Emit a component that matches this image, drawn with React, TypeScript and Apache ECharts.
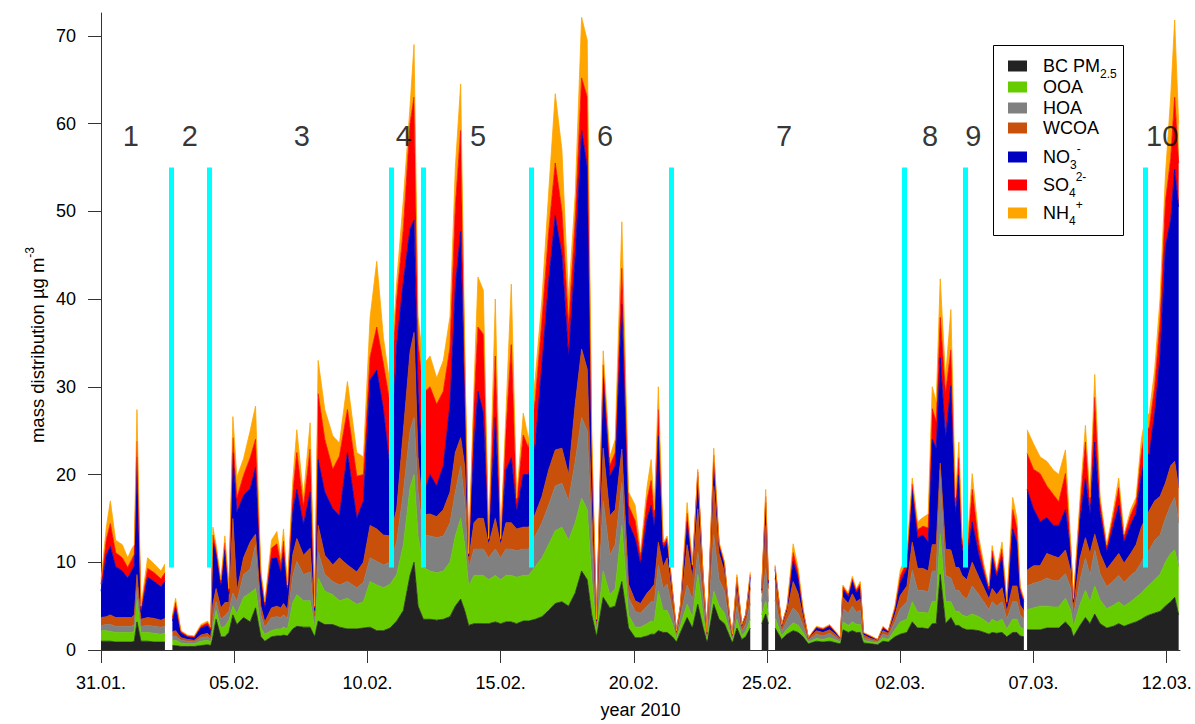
import React, { useEffect, useRef } from "react";
import * as echarts from "echarts";

// time in days after 31.01.2010 00:00
const days = [
  0, 0.2, 0.35, 0.55, 0.8, 1.0, 1.15, 1.25, 1.35, 1.5,
  1.75, 2.0, 2.25, 2.4, 2.55, 2.68, 2.8, 3.0, 3.25, 3.5,
  3.75, 4.0, 4.12, 4.2, 4.32, 4.5, 4.65, 4.8, 4.95, 5.1,
  5.35, 5.6, 5.8, 6.0, 6.15, 6.4, 6.6, 6.75, 6.85, 7.0,
  7.2, 7.35, 7.6, 7.85, 8.02, 8.15, 8.4, 8.7, 8.95, 9.25,
  9.6, 9.85, 10.1, 10.35, 10.6, 10.85, 11.1, 11.35, 11.6, 11.75,
  11.9, 12.1, 12.35, 12.6, 12.85, 13.1, 13.3, 13.5, 13.65, 13.8,
  14.0, 14.15, 14.35, 14.55, 14.8, 15.0, 15.2, 15.4, 15.6, 15.85,
  16.05, 16.3, 16.55, 16.8, 17.05, 17.3, 17.55, 17.8, 18.04, 18.25,
  18.42, 18.6, 18.85, 19.1, 19.3, 19.55, 19.8, 20.05, 20.25, 20.5,
  20.65, 20.77, 20.92, 21.1, 21.25, 21.45, 21.6, 21.75, 22.0, 22.2,
  22.4, 22.6, 22.75, 23.0, 23.2, 23.4, 23.6, 23.7, 23.87, 24.05,
  24.2, 24.37, 24.45, 24.8, 24.95, 25.05, 25.15, 25.3, 25.55, 25.75,
  25.98, 26.17, 26.35, 26.55, 26.85, 27.1, 27.35, 27.6, 27.75, 27.85,
  28.05, 28.2, 28.35, 28.5, 28.62, 28.9, 29.15, 29.35, 29.55, 29.8,
  30.0, 30.25, 30.45, 30.65, 30.85, 31.05, 31.2, 31.35, 31.5, 31.7,
  31.9, 32.07, 32.2, 32.32, 32.5, 32.7, 32.95, 33.15, 33.33, 33.45,
  33.62, 33.82, 34.0, 34.22, 34.38, 34.5, 34.64, 34.7, 34.76, 35.0,
  35.25, 35.5, 35.75, 35.95, 36.2, 36.4, 36.5, 36.75, 36.95, 37.12,
  37.3, 37.5, 37.75, 38.0, 38.2, 38.4, 38.65, 38.85, 39.05, 39.2,
  39.35, 39.55, 39.75, 39.95, 40.15, 40.3, 40.45,
];

const bc = [
  1.0, 1.0, 1.0, 0.9, 0.9, 0.9, 0.9, 1.0, 3.2, 1.0,
  1.0, 0.9, 0.9, 0.9, null, 0.5, 0.5, 0.4, 0.4, 0.4,
  0.5, 0.6, 0.5, 1.5, 3.5, 1.5, 1.5, 2.0, 4.0, 2.9,
  3.7, 3.2, 4.8, 1.5, 1.0, 1.5, 1.6, 1.6, 1.7, 1.6,
  2.4, 2.7, 2.6, 2.6, 1.5, 3.3, 2.9, 2.9, 2.6, 2.4,
  2.4, 2.5, 2.6, 2.2, 2.2, 2.5, 3.3, 4.5, 8.5, 10.0,
  5.0, 3.5, 3.5, 3.4, 3.5, 3.8, 5.0, 5.8, 4.5, 2.8,
  3.0, 3.0, 3.0, 3.0, 3.2, 3.0, 3.2, 3.2, 3.0, 3.3,
  3.3, 3.5, 3.8, 4.5, 5.3, 5.5, 5.0, 6.5, 9.0, 8.0,
  4.0, 1.5, 6.0, 4.8, 5.0, 7.8, 2.5, 1.4, 1.4, 1.6,
  1.8, 1.8, 2.2, 2.0, 2.0, 1.5, 0.9, 2.0, 3.7, 2.5,
  5.2, 2.5, 0.9, 5.2, 3.5, 3.0, 1.5, 0.8, 2.5, 1.2,
  1.5, 2.5, null, 3.0, 4.1, 3.0, null, 2.5, 1.2, 1.8,
  2.2, 2.0, 1.5, 0.7, 1.0, 0.9, 1.0, 0.8, 0.7, 2.3,
  2.0, 2.2, 2.0, 2.0, 0.8, 0.7, 0.6, 1.0, 0.9, 1.5,
  1.8, 2.0, 3.2, 2.5, 2.5, 2.4, 3.0, 3.0, 8.6, 3.0,
  3.7, 2.8, 2.8, 2.5, 2.3, 2.3, 2.2, 2.0, 1.8, 2.0,
  1.9, 2.0, 1.5, 2.0, 2.0, 1.6, 1.5, null, 2.3, 2.3,
  2.3, 2.5, 2.5, 2.5, 3.2, 2.5, 1.5, 2.8, 3.7, 3.0,
  4.1, 3.0, 2.5, 2.7, 3.0, 2.7, 3.0, 3.2, 3.5, 3.8,
  4.0, 4.2, 4.4, 5.0, 5.5, 6.0, 4.0,
];

const ooa = [
  1.2, 1.2, 1.1, 1.1, 1.1, 1.1, 1.1, 1.1, 2.6, 1.0,
  1.0, 1.0, 0.9, 1.0, null, 0.6, 0.6, 0.4, 0.3, 0.3,
  0.5, 0.5, 0.4, 1.2, 1.0, 1.0, 1.2, 1.4, 1.0, 1.2,
  2.3, 3.3, 2.2, 1.0, 0.8, 0.7, 0.8, 0.8, 0.9, 0.8,
  3.0, 3.6, 3.0, 3.0, 1.0, 4.9, 3.8, 3.4, 3.0, 3.5,
  2.8, 3.0, 5.2, 5.2, 4.9, 5.0, 5.3, 7.5, 10.0, 10.0,
  8.0, 5.9, 5.5, 5.4, 5.5, 6.2, 8.0, 9.2, 7.5, 4.5,
  5.5, 5.5, 5.5, 5.0, 5.3, 5.0, 5.3, 5.3, 5.3, 5.2,
  5.2, 6.0, 6.7, 7.5, 8.3, 8.5, 7.5, 8.0, 8.3, 8.0,
  4.0, 0.7, 3.0, 1.5, 2.0, 6.4, 1.5, 1.2, 1.2, 1.4,
  1.5, 1.5, 4.5, 2.5, 2.5, 1.5, 0.4, 0.8, 1.5, 1.2,
  3.4, 1.5, 0.3, 1.5, 1.5, 1.2, 0.6, 0.3, 1.0, 0.4,
  0.6, 1.0, null, 1.0, 1.5, 1.0, null, 1.2, 0.4, 0.6,
  0.9, 0.8, 0.5, 0.2, 0.3, 0.3, 0.4, 0.3, 0.2, 0.9,
  0.8, 1.0, 0.9, 0.9, 0.3, 0.2, 0.2, 0.4, 0.3, 0.8,
  1.4, 1.5, 2.3, 1.8, 1.8, 1.8, 2.5, 2.5, 4.6, 2.5,
  1.8, 1.6, 1.6, 1.5, 1.5, 1.8, 1.6, 1.4, 1.2, 1.5,
  1.3, 1.5, 0.9, 1.5, 1.5, 1.0, 0.9, null, 2.3, 2.5,
  2.7, 2.5, 2.4, 2.4, 2.7, 2.0, 1.2, 2.4, 3.1, 2.5,
  3.2, 2.7, 2.2, 2.4, 2.5, 2.3, 2.5, 2.8, 3.0, 3.2,
  3.4, 3.8, 4.2, 5.0, 5.5, 5.4, 5.5,
];

const hoa = [
  0.6, 0.7, 0.8, 0.7, 0.7, 0.7, 0.7, 0.8, 1.4, 0.7,
  0.8, 0.8, 0.8, 0.8, null, 0.5, 0.5, 0.3, 0.3, 0.2,
  0.4, 0.4, 0.3, 1.0, 1.0, 1.0, 1.2, 1.0, 1.5, 1.4,
  2.6, 2.7, 5.0, 1.5, 0.8, 1.5, 1.4, 1.3, 1.4, 1.2,
  3.0, 3.8, 3.0, 3.3, 0.8, 3.0, 1.9, 1.5, 1.8, 1.9,
  1.9, 2.2, 2.7, 2.7, 2.6, 2.5, 3.7, 6.0, 6.5, 6.5,
  5.0, 3.7, 4.0, 4.0, 4.0, 4.5, 5.0, 6.0, 5.0, 2.0,
  3.0, 3.0, 3.0, 2.5, 3.0, 2.5, 3.0, 3.0, 3.0, 3.0,
  3.0, 3.5, 4.0, 4.5, 5.1, 5.0, 4.5, 7.0, 9.2, 9.0,
  5.0, 0.5, 8.0, 4.5, 5.0, 4.9, 2.0, 1.8, 1.6, 2.0,
  2.2, 2.2, 3.0, 2.5, 3.0, 1.5, 0.4, 1.0, 2.2, 2.0,
  2.6, 1.8, 0.3, 6.4, 3.0, 2.5, 0.6, 0.3, 1.5, 0.5,
  0.8, 1.8, null, 1.5, 3.7, 1.5, null, 2.0, 0.5, 1.0,
  1.7, 1.4, 0.8, 0.2, 0.5, 0.4, 0.5, 0.3, 0.2, 1.5,
  1.4, 1.8, 1.4, 1.6, 0.3, 0.2, 0.15, 0.4, 0.4, 0.9,
  1.5, 2.0, 3.6, 2.5, 2.5, 2.4, 3.5, 3.5, 7.3, 3.0,
  2.7, 2.4, 2.4, 2.2, 2.0, 3.2, 2.5, 2.0, 1.6, 2.0,
  1.8, 2.0, 1.1, 2.0, 2.0, 1.4, 1.2, null, 2.7, 2.8,
  2.8, 3.2, 3.0, 3.0, 2.8, 2.5, 1.2, 2.8, 3.7, 3.0,
  4.1, 3.0, 2.5, 2.8, 3.0, 2.7, 3.0, 3.0, 3.5, 4.0,
  4.0, 4.5, 4.5, 5.0, 5.5, 6.0, 5.0,
];

const wcoa = [
  0.9, 0.9, 1.1, 1.0, 1.0, 1.0, 1.0, 1.1, 1.4, 0.8,
  0.9, 0.9, 0.8, 0.9, null, 0.5, 0.6, 0.3, 0.2, 0.2,
  0.3, 0.4, 0.3, 1.5, 1.5, 1.3, 1.5, 1.0, 8.5, 1.2,
  1.9, 3.1, 1.2, 1.0, 0.6, 1.1, 1.2, 1.1, 1.3, 1.0,
  2.5, 2.6, 2.2, 2.7, 0.6, 3.0, 2.2, 1.9, 3.1, 1.9,
  1.8, 2.3, 3.7, 3.7, 3.4, 3.0, 3.8, 7.0, 9.0, 9.7,
  4.0, 2.3, 2.5, 2.4, 3.0, 3.5, 4.5, 3.2, 4.0, 1.0,
  3.0, 3.5, 3.5, 1.5, 3.5, 1.5, 3.0, 3.0, 2.5, 2.5,
  2.5, 2.5, 3.0, 4.0, 4.1, 4.0, 3.0, 6.5, 7.8, 7.0,
  3.0, 0.3, 6.0, 4.5, 4.0, 3.8, 1.5, 1.2, 1.1, 1.5,
  1.5, 2.0, 2.6, 2.5, 3.0, 1.5, 0.3, 0.9, 4.6, 2.5,
  4.9, 1.8, 0.3, 5.6, 3.0, 2.2, 0.6, 0.2, 1.8, 0.5,
  0.8, 1.8, null, 1.0, 4.9, 1.5, null, 2.5, 0.5, 1.0,
  3.0, 2.2, 1.0, 0.2, 0.4, 0.4, 0.4, 0.3, 0.2, 1.3,
  1.1, 1.4, 1.2, 1.3, 0.3, 0.2, 0.15, 0.4, 0.3, 0.8,
  1.5, 1.8, 3.2, 2.5, 2.5, 2.4, 3.0, 3.0, 0.8, 3.0,
  3.2, 2.6, 2.6, 2.3, 2.2, 2.7, 2.0, 1.6, 1.2, 1.5,
  1.3, 1.6, 0.9, 1.8, 1.8, 1.1, 0.9, null, 1.8, 2.0,
  1.8, 2.8, 2.8, 2.6, 2.7, 2.0, 1.0, 2.5, 2.3, 2.5,
  1.8, 2.3, 2.0, 2.3, 2.5, 2.2, 2.5, 3.0, 4.0, 4.0,
  4.5, 4.5, 4.4, 4.0, 4.5, 4.1, 4.0,
];

const no3 = [
  3.0, 7.0, 7.8, 5.8, 5.3, 4.5, 5.3, 5.6, 13.4, 0.8,
  4.6, 4.2, 3.8, 4.2, null, 1.2, 2.6, 0.5, 0.3, 0.3,
  0.8, 0.9, 0.7, 7.0, 4.0, 2.5, 6.0, 1.0, 7.5, 9.0,
  7.1, 6.1, 7.6, 3.0, 1.6, 5.6, 5.5, 4.0, 5.8, 2.0,
  5.0, 5.6, 3.5, 6.4, 0.6, 7.5, 7.2, 6.4, 4.8, 12.8,
  6.1, 7.0, 16.6, 18.1, 14.3, 7.6, 18.8, 17.0, 14.0, 12.8,
  8.0, 2.3, 4.5, 3.5, 5.0, 10.0, 19.0, 23.5, 8.0, 0.4,
  9.0, 14.5, 12.0, 0.4, 11.5, 0.4, 6.0, 7.4, 2.0, 6.0,
  6.0, 8.0, 15.0, 21.5, 26.7, 22.0, 13.4, 17.0, 24.9, 23.0,
  5.0, 0.3, 8.0, 4.5, 5.0, 16.5, 7.0, 7.1, 4.5, 8.5,
  9.5, 6.5, 12.1, 2.0, 1.8, 0.6, 0.1, 0.3, 2.6, 1.0,
  3.7, 0.7, 0.1, 2.7, 0.9, 0.8, 0.2, 0.1, 1.2, 0.2,
  0.3, 1.2, null, 0.3, 2.6, 0.6, null, 1.0, 0.2, 0.4,
  2.3, 1.7, 0.6, 0.05, 0.3, 0.3, 0.4, 0.2, 0.05, 0.9,
  0.8, 1.4, 1.0, 1.4, 0.2, 0.2, 0.06, 0.3, 0.2, 0.6,
  1.5, 2.0, 6.0, 3.5, 3.8, 3.3, 12.0, 11.0, 12.0, 12.7,
  18.7, 6.0, 10.5, 3.0, 2.5, 4.6, 2.5, 1.6, 0.9, 3.5,
  2.0, 3.5, 0.7, 6.5, 5.0, 1.5, 1.0, null, 9.2, 6.5,
  5.0, 4.1, 3.5, 3.7, 4.6, 2.0, 0.6, 4.5, 6.8, 4.5,
  10.5, 4.6, 2.0, 4.0, 5.5, 2.4, 3.3, 3.6, 6.0, 7.0,
  6.5, 10.0, 16.0, 27.0, 28.0, 33.3, 32.0,
];

const so4 = [
  0.8, 1.8, 2.6, 1.6, 1.5, 1.2, 1.3, 1.3, 1.8, 0.4,
  1.0, 1.0, 0.9, 1.0, null, 0.4, 0.6, 0.2, 0.1, 0.1,
  0.2, 0.3, 0.2, 0.9, 0.5, 0.4, 0.8, 0.3, 1.7, 1.6,
  2.3, 3.5, 3.2, 0.6, 0.4, 1.2, 1.6, 0.9, 1.3, 0.5,
  2.0, 4.2, 2.0, 4.9, 0.3, 7.5, 6.0, 4.5, 6.8, 4.9,
  4.8, 3.0, 2.6, 4.9, 5.2, 7.4, 5.1, 6.0, 12.0, 14.0,
  5.0, 11.6, 10.0, 9.3, 8.5, 6.5, 9.0, 11.5, 4.0, 0.2,
  4.5, 7.3, 9.0, 0.2, 7.0, 0.2, 4.5, 12.9, 1.0, 4.5,
  3.0, 5.0, 5.0, 5.5, 6.0, 5.0, 3.6, 4.0, 6.0, 8.0,
  2.0, 0.1, 1.5, 1.2, 1.5, 4.1, 2.0, 2.0, 0.8, 2.2,
  2.8, 1.2, 3.0, 0.5, 0.4, 0.2, 0.05, 0.1, 1.0, 0.3,
  0.5, 0.2, 0.05, 0.8, 0.2, 0.2, 0.1, 0.05, 0.3, 0.05,
  0.05, 0.3, null, 0.1, 0.7, 0.2, null, 0.3, 0.05, 0.1,
  1.0, 0.6, 0.2, 0.03, 0.1, 0.1, 0.1, 0.05, 0.03, 0.3,
  0.2, 0.3, 0.3, 0.3, 0.05, 0.05, 0.02, 0.1, 0.05, 0.2,
  0.7, 0.8, 0.6, 0.9, 1.0, 1.6, 3.5, 3.0, 4.6, 5.0,
  4.1, 1.0, 2.0, 0.7, 0.5, 3.7, 1.2, 0.5, 0.3, 0.8,
  0.5, 0.9, 0.2, 2.2, 1.6, 0.4, 0.2, null, 4.1, 4.5,
  5.5, 3.6, 3.5, 2.7, 4.1, 0.6, 0.2, 1.5, 4.1, 1.2,
  5.1, 1.2, 0.5, 1.1, 2.0, 0.6, 1.1, 1.2, 2.5, 3.0,
  3.0, 3.0, 4.0, 5.0, 7.0, 8.2, 5.0,
];

const nh4 = [
  0.5, 1.4, 2.6, 1.4, 1.5, 1.1, 1.2, 1.1, 3.6, 0.3,
  1.2, 1.0, 0.9, 1.0, null, 0.3, 0.5, 0.1, 0.1, 0.1,
  0.2, 0.2, 0.2, 0.9, 0.5, 0.3, 0.8, 0.3, 2.4, 2.4,
  1.9, 3.1, 3.8, 0.4, 0.3, 0.9, 1.4, 0.8, 1.4, 0.3,
  1.5, 2.6, 1.2, 3.0, 0.2, 3.8, 3.4, 3.8, 1.5, 3.2,
  2.7, 2.0, 4.5, 7.5, 3.0, 2.2, 2.0, 3.4, 2.0, 6.0,
  3.0, 3.2, 3.5, 3.0, 3.5, 3.5, 4.5, 5.3, 2.0, 0.1,
  2.0, 5.7, 5.0, 0.1, 6.5, 0.1, 2.0, 6.9, 0.5, 2.5,
  1.0, 2.5, 2.5, 4.5, 7.9, 7.0, 3.0, 3.0, 6.9, 6.5,
  2.0, 0.1, 1.6, 1.0, 1.5, 5.3, 1.5, 1.8, 0.6, 1.5,
  2.4, 0.8, 2.6, 0.3, 0.3, 0.2, 0.05, 0.1, 1.2, 0.2,
  0.3, 0.1, 0.05, 0.8, 0.2, 0.2, 0.1, 0.05, 0.3, 0.05,
  0.05, 0.3, null, 0.1, 0.8, 0.2, null, 0.2, 0.05, 0.1,
  1.0, 0.6, 0.2, 0.02, 0.1, 0.1, 0.1, 0.05, 0.02, 0.2,
  0.2, 0.3, 0.2, 0.3, 0.05, 0.05, 0.02, 0.1, 0.05, 0.2,
  0.7, 0.9, 0.7, 0.9, 1.0, 1.6, 2.5, 2.3, 4.4, 1.8,
  4.6, 1.0, 1.8, 0.6, 0.4, 1.8, 0.8, 0.5, 0.3, 0.6,
  0.3, 0.8, 0.2, 1.4, 1.1, 0.3, 0.2, null, 2.7, 2.9,
  1.9, 2.8, 2.8, 3.1, 2.7, 0.4, 0.2, 0.9, 1.9, 0.7,
  2.6, 0.6, 0.3, 0.7, 1.1, 0.3, 0.6, 0.6, 1.5, 1.5,
  1.6, 2.0, 2.5, 3.0, 7.0, 8.8, 4.5,
];

const seriesNames = ["BC PM2.5", "OOA", "HOA", "WCOA", "NO3-", "SO42-", "NH4+"];
const seriesColors = ["#222222", "#66cc00", "#808080", "#c8500a", "#0000c0", "#ff0000", "#ffa500"];
const seriesValues = [bc, ooa, hoa, wcoa, no3, so4, nh4];

// x-axis ticks (days after 31.01.) and their labels
const tickDays = [0, 5, 10, 15, 20, 25, 30, 35, 40];
const tickLabels = ["31.01.", "05.02.", "10.02.", "15.02.", "20.02.", "25.02.", "02.03.", "07.03.", "12.03."];
const yTicks = [0, 10, 20, 30, 40, 50, 60, 70];

// period separators (cyan bars) and period numbers
const cyanDays = [2.62, 4.05, 10.88, 12.08, 16.14, 21.4, 30.15, 32.45, 39.2];
const cyanBottom = 9.4;
const cyanTop = 55;
const periodNames = ["1", "2", "3", "4", "5", "6", "7", "8", "9", "10"];
const periodDays = [1.12, 3.33, 7.54, 11.37, 14.15, 18.92, 25.64, 31.12, 32.74, 39.83];
const periodLevel = 58.6;

// legend rich labels
const legendLabels = [
  "BC PM{sub|2.5}",
  "OOA",
  "HOA",
  "WCOA",
  "NO{sub|3}{sup|-}",
  "SO{sub|4}{sup|2-}",
  "NH{sub|4}{sup|+}",
];
const legendRows = [66, 87, 108, 128, 157, 185, 213];

const FONT = "'Liberation Sans', Arial, Helvetica, sans-serif";
const TXT = "#000";
const T0 = Date.UTC(2010, 0, 31);
const DAY = 86400000;
const DAY_MAX = 40.5;
const toTime = (d: number) => T0 + d * DAY;

function buildOption() {
  const areaSeries = seriesValues.map((vals, k) => ({
    name: seriesNames[k],
    type: "line",
    stack: "total",
    xAxisIndex: 0,
    data: days.map((d, i) => [toTime(d), vals[i]]),
    showSymbol: false,
    symbol: "none",
    connectNulls: false,
    lineStyle: { width: 0.8, color: seriesColors[k] },
    itemStyle: { color: seriesColors[k] },
    areaStyle: { color: seriesColors[k], opacity: 1 },
    emphasis: { disabled: true },
    silent: true,
  }));

  const labelSeries = {
    type: "scatter",
    xAxisIndex: 0,
    data: periodDays.map((d, i) => ({ value: [toTime(d), periodLevel], name: periodNames[i] })),
    symbolSize: 1,
    itemStyle: { color: "rgba(0,0,0,0)" },
    label: {
      show: true,
      position: "inside",
      formatter: "{b}",
      fontSize: 29,
      color: TXT,
      fontFamily: FONT,
    },
    silent: true,
    z: 6,
    markLine: {
      silent: true,
      symbol: ["none", "none"],
      label: { show: false },
      lineStyle: { color: "#00ffff", width: 5, type: "solid", opacity: 1 },
      emphasis: { disabled: true },
      data: cyanDays.map((d) => [{ coord: [toTime(d), cyanBottom] }, { coord: [toTime(d), cyanTop] }]),
    },
  };

  const graphics: any[] = [
    {
      type: "rect",
      shape: { x: 993.5, y: 45.5, width: 130, height: 190 },
      style: { fill: "#fff", stroke: "#000", lineWidth: 1 },
      z: 100,
    },
  ];
  legendLabels.forEach((txt, k) => {
    graphics.push({
      type: "rect",
      shape: { x: 1008, y: legendRows[k] - 5.5, width: 19, height: 11 },
      style: { fill: seriesColors[k] },
      z: 101,
    });
    graphics.push({
      type: "text",
      x: 1043,
      y: legendRows[k],
      z: 101,
      style: {
        text: txt,
        fill: TXT,
        fontSize: 18,
        fontFamily: FONT,
        verticalAlign: "middle",
        align: "left",
        lineHeight: 28,
        rich: {
          sub: { fontSize: 12, lineHeight: 12, verticalAlign: "bottom", fontFamily: FONT, fill: TXT },
          sup: { fontSize: 12, lineHeight: 12, verticalAlign: "top", fontFamily: FONT, fill: TXT },
        },
      },
    });
  });
  // y-axis title (rotated)
  graphics.push({
    type: "text",
    x: 37,
    y: 345,
    rotation: Math.PI / 2,
    z: 101,
    style: {
      text: "mass distribution µg m{sup|-3}",
      fill: TXT,
      fontSize: 18.5,
      fontFamily: FONT,
      align: "center",
      verticalAlign: "middle",
      lineHeight: 26,
      rich: {
        sup: { fontSize: 12, lineHeight: 12, verticalAlign: "top", fontFamily: FONT, fill: TXT },
      },
    },
  });

  return {
    animation: false,
    backgroundColor: "#ffffff",
    textStyle: { fontFamily: FONT },
    grid: { left: 101, right: 15, top: 13, bottom: 68, containLabel: false },
    xAxis: [
      {
        // time axis carrying the data
        type: "time",
        position: "bottom",
        min: toTime(0),
        max: toTime(DAY_MAX),
        axisLine: { show: true, onZero: false, lineStyle: { color: "#333", width: 1 } },
        axisTick: { show: false },
        axisLabel: { show: false },
        splitLine: { show: false },
      },
      {
        // day scale carrying the date ticks and labels
        type: "value",
        position: "bottom",
        min: 0,
        max: DAY_MAX,
        name: "year 2010",
        nameLocation: "middle",
        nameGap: 51,
        nameTextStyle: { fontSize: 18, color: TXT, fontFamily: FONT },
        axisLine: { show: false, onZero: false },
        axisTick: { show: true, length: 13, customValues: tickDays, lineStyle: { color: "#333" } },
        axisLabel: {
          customValues: tickDays,
          formatter: (v: number) => tickLabels[Math.round(v / 5)] ?? "",
          fontSize: 18,
          color: TXT,
          margin: 24,
          fontFamily: FONT,
        },
        splitLine: { show: false },
      },
    ],
    yAxis: {
      type: "value",
      min: 0,
      max: 72.6,
      axisLine: { show: true, onZero: false, lineStyle: { color: "#333", width: 1 } },
      axisTick: { show: true, length: 13, customValues: yTicks, lineStyle: { color: "#333" } },
      axisLabel: {
        customValues: yTicks,
        fontSize: 18,
        color: TXT,
        margin: 25,
        fontFamily: FONT,
      },
      splitLine: { show: false },
    },
    graphic: graphics,
    series: [...areaSeries, labelSeries],
  };
}

export default function App() {
  const ref = useRef<HTMLDivElement>(null);
  useEffect(() => {
    if (!ref.current) return;
    const chart = echarts.init(ref.current, null, { renderer: "svg" });
    chart.setOption(buildOption() as any);
    return () => chart.dispose();
  }, []);
  return (
    <div
      ref={ref}
      style={{ position: "fixed", left: 0, top: 0, width: 1195, height: 724, background: "#fff" }}
    />
  );
}
